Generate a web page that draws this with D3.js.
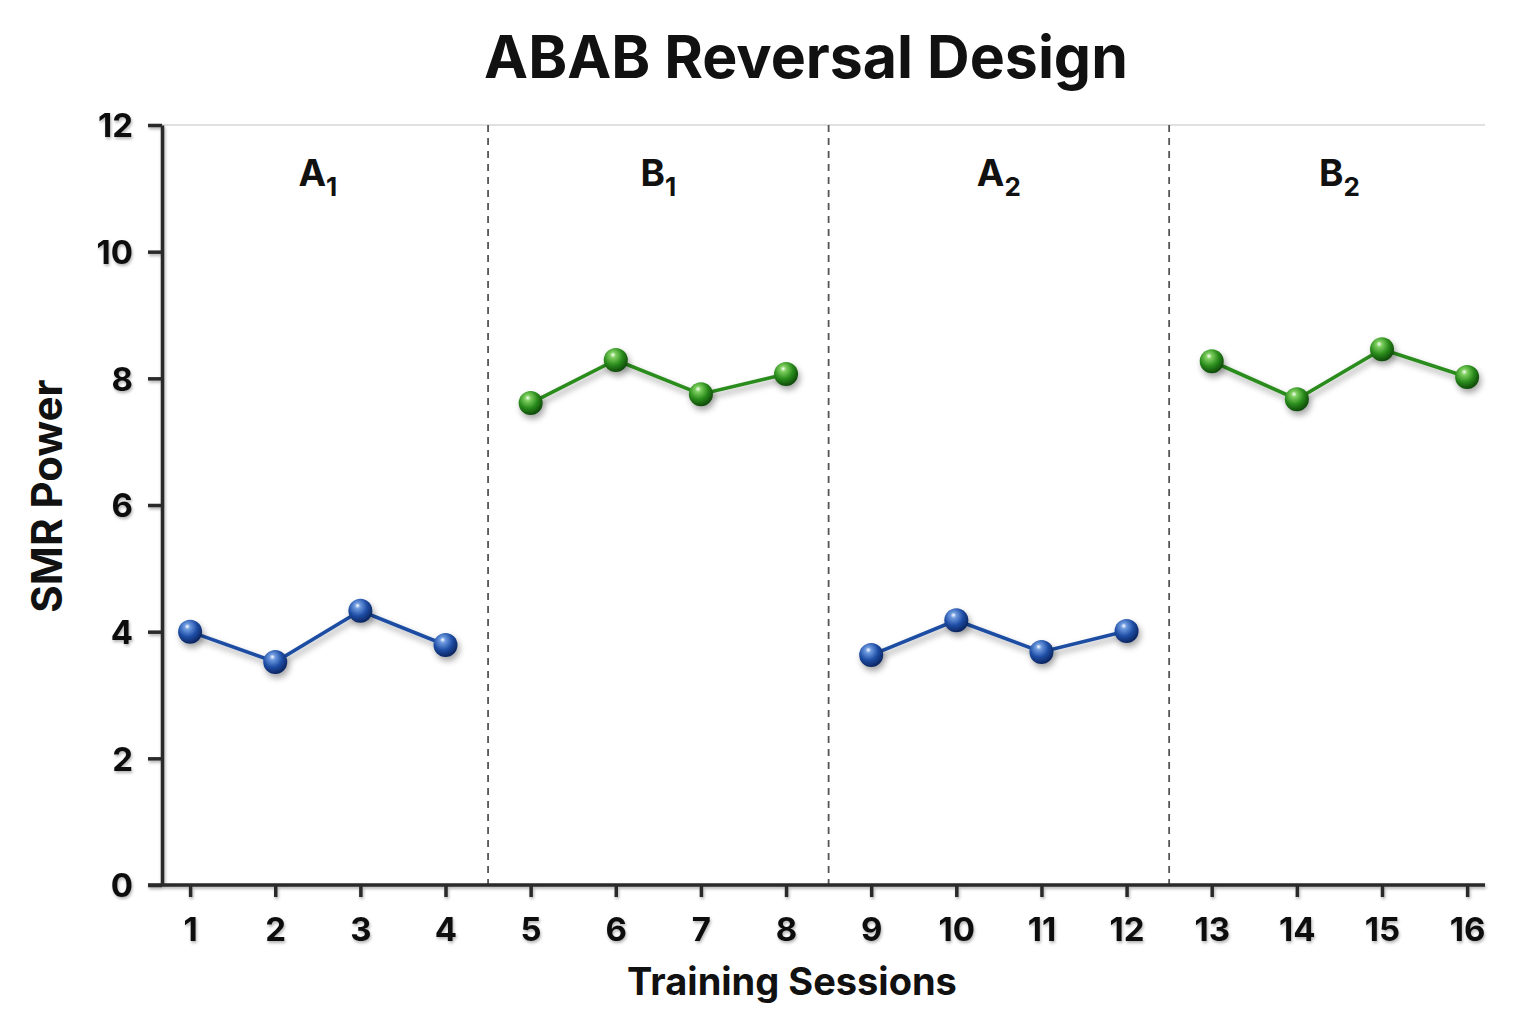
<!DOCTYPE html>
<html>
<head>
<meta charset="utf-8">
<script src="https://cdn.jsdelivr.net/npm/d3@7.9.0/dist/d3.min.js"></script>
<style>
  body { margin: 0; background: #fff; }
  text { font-family: Inter, "Noto Sans", sans-serif; fill: #111; }
</style>
</head>
<body>
<svg id="chart" width="1536" height="1024"></svg>
<script>
const sessions = d3.range(1, 17);
const smrPower = [4.0, 3.52, 4.33, 3.79, 7.61, 8.29, 7.75, 8.07, 3.63, 4.18, 3.68, 4.01, 8.27, 7.67, 8.46, 8.02];
const phaseNames = ['A', 'B', 'A', 'B'];
const phaseSubs = ['1', '1', '2', '2'];
const phaseStarts = [1, 5, 9, 13];
const yTicks = [0, 2, 4, 6, 8, 10, 12];

const svg = d3.select('#chart');
const margin = { left: 162, right: 1485, top: 125, bottom: 885 };

const x = d3.scaleLinear().domain([0.67, 16.21]).range([margin.left, margin.right]);
const y = d3.scaleLinear().domain([0, 12]).range([margin.bottom, margin.top]);

const defs = svg.append('defs');
const shadow = defs.append('filter').attr('id', 'shadow')
  .attr('x', '-50%').attr('y', '-50%').attr('width', '200%').attr('height', '200%');
shadow.append('feDropShadow').attr('dx', 2).attr('dy', 4).attr('stdDeviation', 3)
  .attr('flood-color', '#000').attr('flood-opacity', 0.35);

const axisShadow = defs.append('filter').attr('id', 'axisShadow')
  .attr('x', '-5%').attr('y', '-5%').attr('width', '110%').attr('height', '110%');
axisShadow.append('feDropShadow').attr('dx', 1).attr('dy', 2).attr('stdDeviation', 1.5)
  .attr('flood-color', '#000').attr('flood-opacity', 0.3);

function sphere(id, light, mid, dark) {
  const g = defs.append('radialGradient').attr('id', id)
    .attr('cx', '40%').attr('cy', '35%').attr('r', '65%').attr('fx', '38%').attr('fy', '28%');
  g.append('stop').attr('offset', '0%').attr('stop-color', '#ffffff');
  g.append('stop').attr('offset', '18%').attr('stop-color', light);
  g.append('stop').attr('offset', '60%').attr('stop-color', mid);
  g.append('stop').attr('offset', '100%').attr('stop-color', dark);
}
sphere('blueBall', '#6f9be0', '#1f4ea6', '#0b2560');
sphere('greenBall', '#7fd060', '#2a8c1c', '#0f4a08');

const colors = { A: '#1d4ea3', B: '#2c8c1e' };

// title
svg.append('text').attr('x', 806).attr('y', 78).attr('text-anchor', 'middle')
  .style('font-size', '59px').style('font-weight', 700).text('ABAB Reversal Design');

// top gridline
svg.append('line').attr('x1', margin.left).attr('x2', margin.right)
  .attr('y1', y(12)).attr('y2', y(12)).attr('stroke', '#d6d6d6').attr('stroke-width', 1.5);

// phase dividers
phaseStarts.slice(1).forEach((s) => {
  svg.append('line').attr('x1', x(s - 0.5)).attr('x2', x(s - 0.5))
    .attr('y1', y(12)).attr('y2', y(0))
    .attr('stroke', '#555').attr('stroke-width', 1.8).attr('stroke-dasharray', '7,6');
});

// phase labels
phaseNames.forEach((name, i) => {
  const start = phaseStarts[i];
  const cx = x(start + 1.5);
  const t = svg.append('text').attr('x', cx).attr('y', 186).attr('text-anchor', 'middle')
    .style('font-size', '37px').style('font-weight', 700);
  t.append('tspan').text(name);
  t.append('tspan').attr('dy', 10).style('font-size', '26px').text(phaseSubs[i]);
});

// axes
const axisG = svg.append('g').attr('filter', 'url(#axisShadow)');
const yAxis = axisG.append('g').attr('transform', `translate(${margin.left},0)`)
  .call(d3.axisLeft(y).tickValues(yTicks).tickSize(14).tickPadding(15).tickSizeOuter(0));
const xAxis = axisG.append('g').attr('transform', `translate(0,${margin.bottom})`)
  .call(d3.axisBottom(x).tickValues(sessions).tickSize(12).tickPadding(14).tickSizeOuter(0));

[yAxis, xAxis].forEach((a) => {
  a.select('.domain').attr('stroke', '#2a2a2a').attr('stroke-width', 3.5);
  a.selectAll('.tick line').attr('stroke', '#2a2a2a').attr('stroke-width', 3.5);
  a.selectAll('.tick text').style('font-size', '33px').style('font-weight', 700)
    .style('font-family', 'Inter, "Noto Sans", sans-serif').attr('fill', '#111');
});
xAxis.select('.domain').attr('d', `M${margin.left - 14},0H${margin.right}`);
yAxis.selectAll('.tick text').attr('dy', '0.36em');
xAxis.selectAll('.tick text').attr('dy', '0.9em');

// axis titles
svg.append('text').attr('x', 792).attr('y', 995).attr('text-anchor', 'middle')
  .style('font-size', '38px').style('font-weight', 700).text('Training Sessions');
svg.append('text').attr('transform', 'translate(62,496) rotate(-90)').attr('text-anchor', 'middle')
  .style('font-size', '42px').style('font-weight', 700).text('SMR Power');

// lines and markers per phase
const line = d3.line().x((d) => x(d.s)).y((d) => y(d.v));
phaseNames.forEach((name, i) => {
  const pts = d3.range(4).map((k) => ({ s: sessions[phaseStarts[i] - 1 + k], v: smrPower[phaseStarts[i] - 1 + k] }));
  const g = svg.append('g');
  g.append('path').datum(pts).attr('d', line).attr('fill', 'none')
    .attr('stroke', colors[name]).attr('stroke-width', 3.6).attr('filter', 'url(#shadow)');
  g.selectAll('circle').data(pts).join('circle')
    .attr('cx', (d) => x(d.s)).attr('cy', (d) => y(d.v)).attr('r', 12)
    .attr('fill', name === 'A' ? 'url(#blueBall)' : 'url(#greenBall)')
    .attr('filter', 'url(#shadow)');
});
</script>
</body>
</html>
